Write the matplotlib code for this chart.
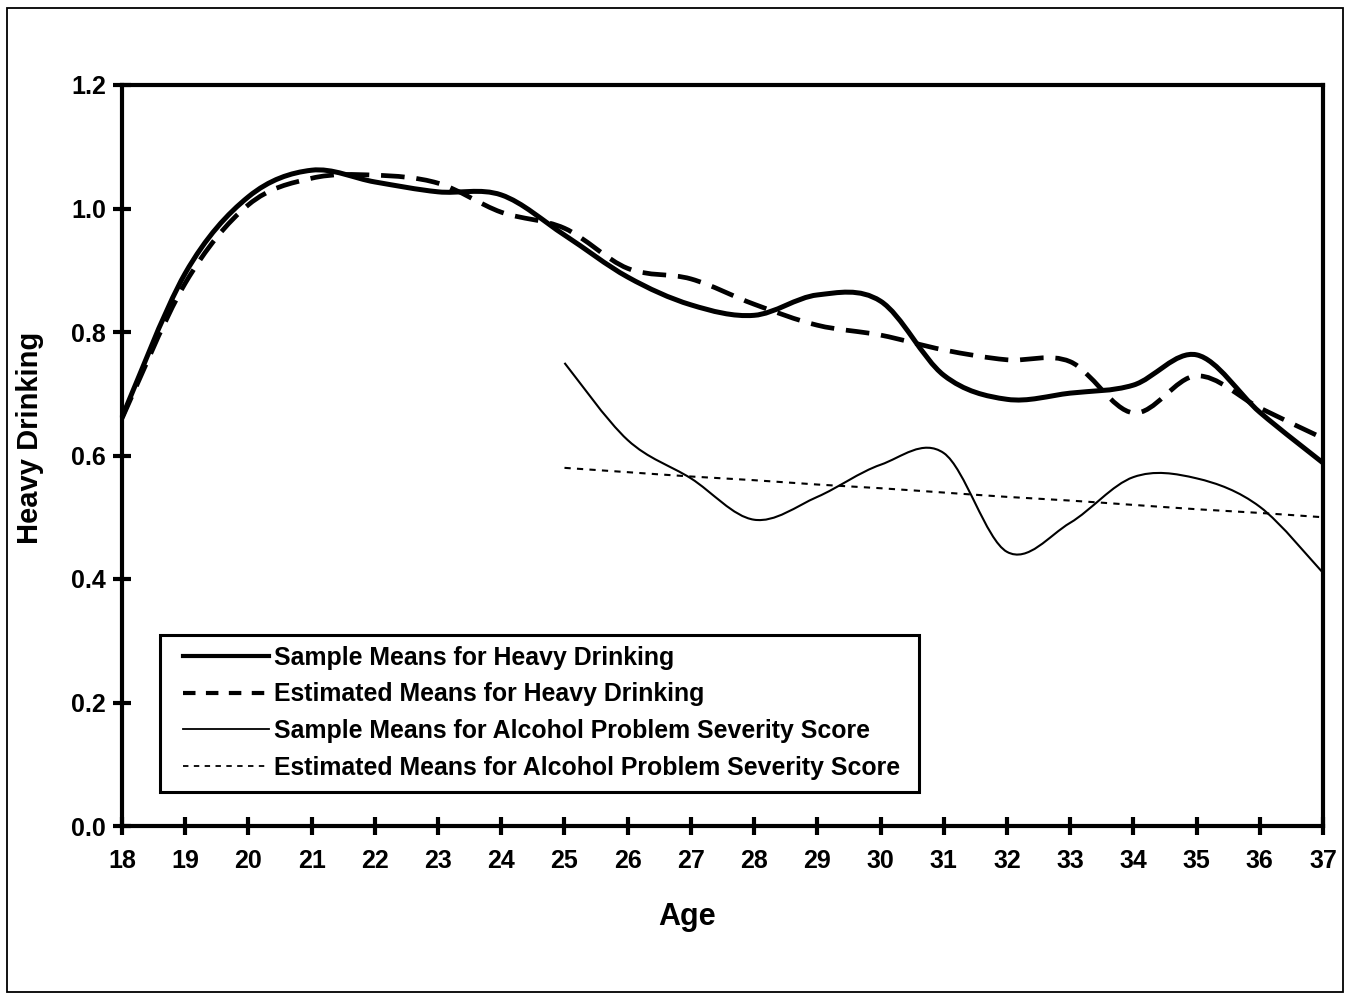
"""Heavy drinking and alcohol problem severity by age (smoothed line chart)."""
import matplotlib
matplotlib.use("Agg")
import matplotlib.pyplot as plt
from matplotlib.path import Path
from matplotlib.patches import PathPatch, Rectangle
from matplotlib.lines import Line2D
from matplotlib.ticker import FormatStrFormatter

plt.rcParams["font.family"] = ["Liberation Sans", "DejaVu Sans"]
plt.rcParams["font.weight"] = "bold"

ages = list(range(18, 38))
heavy_sample = [0.662, 0.895, 1.019, 1.062, 1.043, 1.027, 1.022, 0.957, 0.889, 0.844,
                0.827, 0.860, 0.850, 0.730, 0.691, 0.701, 0.714, 0.763, 0.670, 0.588]
heavy_est = [0.660, 0.879, 1.006, 1.049, 1.054, 1.041, 0.994, 0.968, 0.903, 0.886,
             0.845, 0.811, 0.795, 0.771, 0.755, 0.752, 0.669, 0.729, 0.677, 0.628]
severity_ages = list(range(25, 38))
severity_sample = [0.750, 0.625, 0.563, 0.496, 0.533, 0.585, 0.604, 0.444, 0.491,
                   0.565, 0.563, 0.517, 0.410]
severity_est = [0.580, 0.573, 0.566, 0.560, 0.553, 0.547, 0.540, 0.533, 0.527,
                0.520, 0.513, 0.507, 0.500]

labels = ["Sample Means for Heavy Drinking",
          "Estimated Means for Heavy Drinking",
          "Sample Means for Alcohol Problem Severity Score",
          "Estimated Means for Alcohol Problem Severity Score"]


def smooth_path(x, y):
    # Excel-style smoothed line: cubic Bezier segments through every point
    pts = list(zip(x, y))
    n = len(pts)
    verts = [pts[0]]
    codes = [Path.MOVETO]
    for i in range(n - 1):
        p0 = pts[max(i - 1, 0)]
        p1 = pts[i]
        p2 = pts[i + 1]
        p3 = pts[min(i + 2, n - 1)]
        c1 = (p1[0] + (p2[0] - p0[0]) / 6, p1[1] + (p2[1] - p0[1]) / 6)
        c2 = (p2[0] - (p3[0] - p1[0]) / 6, p2[1] - (p3[1] - p1[1]) / 6)
        verts += [c1, c2, p2]
        codes += [Path.CURVE4] * 3
    return Path(verts, codes)


fig = plt.figure(figsize=(13.48, 9.94), dpi=100)
ax = fig.add_axes([122 / 1348, 168 / 994, 1201 / 1348, 741 / 994])

styles = [
    (ages, heavy_sample, dict(lw=3.6, linestyle="-")),
    (ages, heavy_est, dict(lw=3.4, linestyle=(0, (5, 2.5)))),
    (severity_ages, severity_sample, dict(lw=1.5, linestyle="-")),
    (severity_ages, severity_est, dict(lw=1.5, linestyle=(0, (3, 3)))),
]
for x, y, st in styles:
    ax.add_patch(PathPatch(smooth_path(x, y), fill=False, edgecolor="black",
                           capstyle="butt", joinstyle="round", clip_on=False, **st))

ax.set_xlim(18, 37)
ax.set_ylim(0, 1.2)
ax.set_xticks(ages)
ax.set_yticks([0.0, 0.2, 0.4, 0.6, 0.8, 1.0, 1.2])
ax.yaxis.set_major_formatter(FormatStrFormatter("%.1f"))
for sp in ax.spines.values():
    sp.set_linewidth(3)
    sp.set_color("black")
ax.tick_params(axis="both", direction="inout", length=13, width=3, labelsize=18)
ax.tick_params(axis="x", pad=10)
ax.tick_params(axis="y", pad=5)
for lab in ax.get_xticklabels() + ax.get_yticklabels():
    lab.set_fontweight("bold")

handles = [
    Line2D([], [], color="black", lw=3, linestyle="-"),
    Line2D([], [], color="black", lw=3, linestyle=(0, (3, 2.5))),
    Line2D([], [], color="black", lw=1.3, linestyle="-"),
    Line2D([], [], color="black", lw=1.3, linestyle=(0, (3, 3))),
]
# legend box drawn separately so the inner padding can differ by side
ax.add_patch(Rectangle((0.0316, 0.0459), 0.632, 0.212, transform=ax.transAxes,
                       facecolor="white", edgecolor="black", lw=2.2, zorder=4))
leg = ax.legend(handles, labels, loc="upper left", bbox_to_anchor=(0.0508, 0.2435),
                borderaxespad=0, borderpad=0, frameon=False,
                handlelength=3.45, handletextpad=0.2, labelspacing=0.51,
                prop={"size": 17.9, "weight": "bold"})
leg.set_zorder(5)

fig.text(30 / 1348, 1 - 438 / 994, "Heavy Drinking", rotation=90, ha="center",
         va="center", fontsize=21, fontweight="bold")
fig.text(687 / 1348, 1 - 917 / 994, "Age", ha="center", va="center",
         fontsize=22, fontweight="bold")

fig.patches.append(Rectangle((7 / 1348, 2 / 994), 1336 / 1348, 984 / 994,
                             transform=fig.transFigure, fill=False,
                             edgecolor="black", lw=1.3))

fig.savefig("out.png", dpi=100)
